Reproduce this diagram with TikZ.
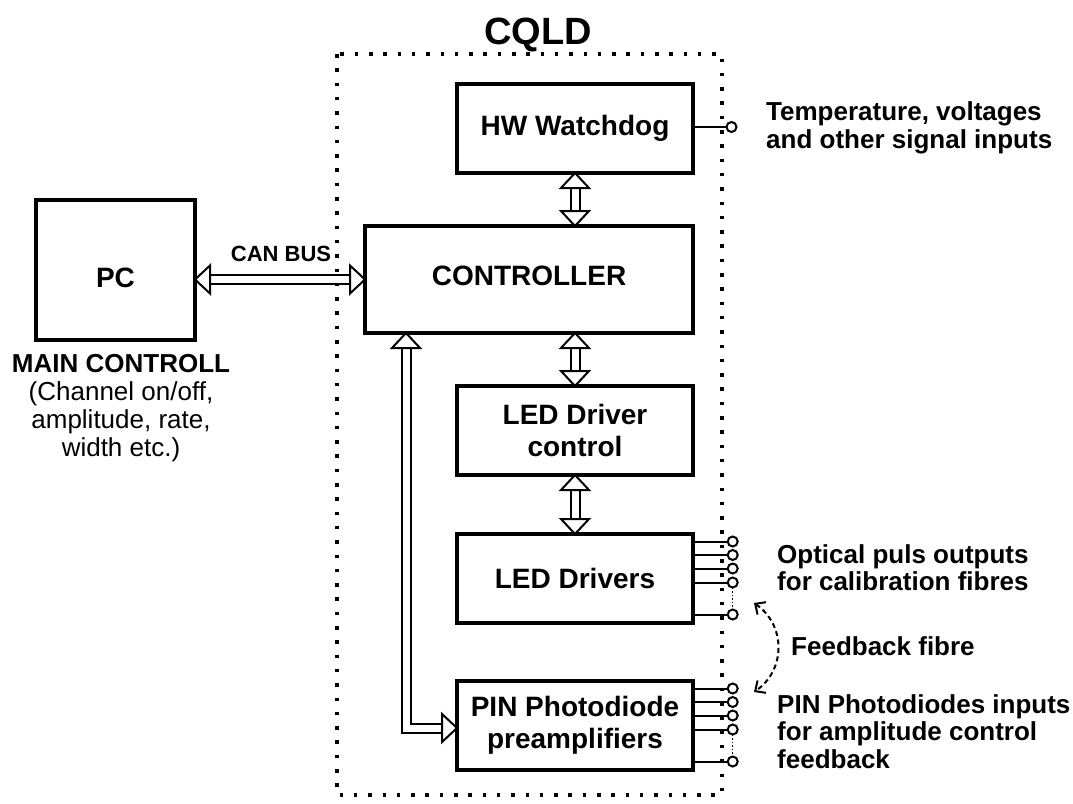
\documentclass[tikz,border=0pt]{standalone}
\usepackage{fontspec}
\setmainfont{Liberation Sans}
\usetikzlibrary{calc,arrows.meta}

\newcommand\vbidir[2]{%
  \draw[bus] (#1) -- ++(-14,15) -- ++(28,0) -- cycle;
  \draw[bus] ($(#1)+(-4.5,15)$) -- ($(#2)+(-4.5,-15)$);
  \draw[bus] ($(#1)+(4.5,15)$) -- ($(#2)+(4.5,-15)$);
  \draw[bus] (#2) -- ++(-14,-15) -- ++(28,0) -- cycle;
}
\newcommand\hbidir[2]{%
  \draw[bus] (#1) -- ++(15,-14) -- ++(0,28) -- cycle;
  \draw[bus] ($(#1)+(15,-4.5)$) -- ($(#2)+(-15,-4.5)$);
  \draw[bus] ($(#1)+(15,4.5)$) -- ($(#2)+(-15,4.5)$);
  \draw[bus] (#2) -- ++(-15,-14) -- ++(0,28) -- cycle;
}

\begin{document}
\begin{tikzpicture}[x=1pt,y=-1pt,
  box/.style={draw,line width=4pt,inner sep=0pt,outer sep=0pt,
    font=\bfseries\fontsize{28}{32}\selectfont,align=center},
  bus/.style={line width=2pt,line join=miter},
  pinline/.style={line width=2pt},
  pincirc/.style={line width=2pt,fill=white},
  lbl/.style={font=\bfseries\fontsize{26}{28}\selectfont,anchor=base west,inner sep=0pt},
  side/.style={font=\fontsize{26}{28}\selectfont,anchor=base,inner sep=0pt},
]
\useasboundingbox (0,0) rectangle (1073,803);

% CQLD enclosure
\draw[line width=3.5pt,dash pattern=on 3.5pt off 10.8pt] (337,54) rectangle (722,795);
\node[font=\bfseries\fontsize{38}{40}\selectfont,anchor=base,inner sep=0pt] (title) at (538,44) {CQLD};

% boxes
\node[box,minimum width=159pt,minimum height=140pt,text height=35pt,text depth=0pt] (pc) at (115.5,270) {PC};
\node[box,minimum width=236pt,minimum height=89pt] (hw) at (575,128.5) {HW Watchdog};
\node[box,minimum width=328pt,minimum height=107pt,text depth=8pt] (ctrl) at (529,279.5) {CONTROLLER};
\node[box,minimum width=236pt,minimum height=89pt] (ledc) at (575,430.5) {LED Driver\\control};
\node[box,minimum width=236pt,minimum height=89pt] (ledd) at (575,578.5) {LED Drivers};
\node[box,minimum width=236pt,minimum height=89pt] (pin) at (575,725.5) {PIN Photodiode\\preamplifiers};

% buses
\coordinate (a1) at (hw.south |- ctrl.north);
\vbidir{hw.south}{a1}
\coordinate (a2) at (ctrl.south -| ledc.north);
\vbidir{a2}{ledc.north}
\vbidir{ledc.south}{ledd.north}
\coordinate (a3) at (pc.east |- ctrl.west);
\hbidir{a3}{ctrl.west}
\node[font=\bfseries\fontsize{22}{24}\selectfont,anchor=base,inner sep=0pt] (can) at (281,261) {CAN BUS};

% L-shaped bus controller -> PIN
\coordinate (bt) at ($(ctrl.south west)+(41,0)$);
\coordinate (br) at ($(pin.west)+(0,2.5)$);
\draw[bus] (bt) -- ++(-14,15) -- ++(28,0) -- cycle;
\draw[bus] ($(bt)+(-4.5,15)$) |- ($(br)+(-15,4.5)$);
\draw[bus] ($(bt)+(4.5,15)$) |- ($(br)+(-15,-4.5)$);
\draw[bus] (br) -- ++(-15,-14) -- ++(0,28) -- cycle;

% pins
\coordinate (hwp) at ($(hw.east)+(38.5,-1.5)$);
\draw[pinline] ($(hw.east)+(0,-1.5)$) -- (hwp);
\draw[pincirc] (hwp) circle (5);
\foreach \dy [count=\i] in {-37,-23.5,-10,4,36}{
  \coordinate (lp\i) at ($(ledd.east)+(39.7,\dy)$);
  \draw[pinline] ($(ledd.east)+(0,\dy)$) -- (lp\i);
  \coordinate (pp\i) at ($(pin.east)+(39.7,\dy)$);
  \draw[pinline] ($(pin.east)+(0,\dy)$) -- (pp\i);
}
\draw[line width=1.5pt,dotted] ($(lp4)+(0,5)$) -- ($(lp5)+(0,-5)$);
\draw[line width=1.5pt,dotted] ($(pp4)+(0,5)$) -- ($(pp5)+(0,-5)$);
\foreach \i in {1,...,5}{
  \draw[pincirc] (lp\i) circle (5);
  \draw[pincirc] (pp\i) circle (5);
}

% feedback fibre
\coordinate (fb1) at (754,603);
\coordinate (fb2) at (754,692);
\draw[line width=2pt,dash pattern=on 5pt off 3.5pt,{Straight Barb[length=8pt,width=15pt]}-{Straight Barb[length=8pt,width=15pt]}]
  (fb1) .. controls (786,625) and (786,670) .. (fb2);

% right labels
\node[lbl] (t1) at (766,120) {Temperature, voltages};
\node[lbl] (t2) at (766,148) {and other signal inputs};
\node[lbl] (o1) at (777,563) {Optical puls outputs};
\node[lbl] (o2) at (777,590) {for calibration fibres};
\node[lbl] (f1) at (791,655) {Feedback fibre};
\node[lbl] (p1) at (777,713) {PIN Photodiodes inputs};
\node[lbl] (p2) at (777,740) {for amplitude control};
\node[lbl] (p3) at (777,768) {feedback};

% left labels
\node[side,font=\bfseries\fontsize{26}{28}\selectfont] (m1) at (121,372) {MAIN CONTROLL};
\node[side] (m2) at (121,400) {(Channel on/off,};
\node[side] (m3) at (121,428) {amplitude, rate,};
\node[side] (m4) at (121,456) {width etc.)};
\end{tikzpicture}
\end{document}
